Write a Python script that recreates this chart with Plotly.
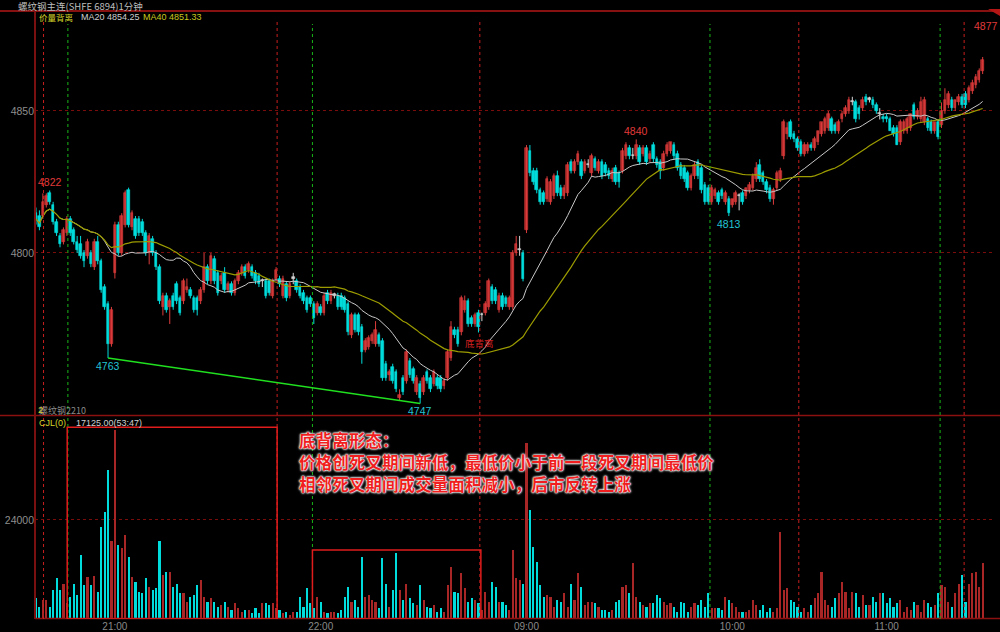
import plotly.graph_objects as go
import pandas as pd

# ---------------- data: 1-minute bars [open, high, low, close] ----------------
ohlc_prev_day = [
    [4814,4816,4810,4812],[4813,4815,4808,4809],[4813,4821,4812,4818],[4817,4821,4816,4820],
    [4821,4822,4817,4818],[4817,4818,4810,4811],[4811,4812,4806,4807],[4806,4807,4802,4803],
    [4804,4809,4803,4808],[4807,4813,4806,4812],[4812,4813,4806,4807],[4808,4809,4803,4804],
    [4804,4806,4800,4801],[4803,4806,4798,4799],[4800,4801,4795,4797],[4799,4805,4798,4804],
    [4800,4801,4795,4796],[4795,4805,4794,4804],[4804,4806,4796,4797],[4797,4798,4786,4787],
    [4788,4789,4780,4781],[4782,4783,4763,4768],[4768,4781,4767,4780],
]
ohlc_night = [
    [4793,4811,4791,4810],[4810,4811,4799,4800],[4800,4814,4799,4813],[4810,4822,4809,4821],
    [4822,4823,4809,4810],[4809,4815,4808,4814],[4812,4813,4805,4806],[4812,4813,4806,4807],
    [4811,4812,4806,4807],[4807,4808,4799,4800],[4800,4807,4796,4806],[4805,4806,4799,4800],
    [4800,4801,4794,4795],[4795,4796,4782,4783],[4781,4786,4778,4785],[4785,4786,4779,4780],
    [4781,4784,4775,4783],[4785,4786,4780,4781],[4789,4790,4782,4783],[4784,4785,4778,4779],
    [4783,4791,4782,4790],[4787,4791,4786,4788],[4787,4788,4784,4785],[4784,4785,4779,4780],
    [4784,4785,4778,4780],[4783,4788,4782,4787],[4787,4800,4786,4795],[4795,4796,4789,4790],
    [4790,4800,4789,4799],[4798,4799,4789,4790],[4793,4794,4785,4786],[4790,4793,4789,4792],
    [4793,4795,4786,4787],[4787,4790,4786,4789],[4789,4790,4785,4786],[4786,4791,4785,4790],
    [4790,4794,4789,4793],[4793,4796,4792,4795],[4795,4796,4791,4792],[4794,4797,4793,4796],
    [4795,4796,4791,4792],[4793,4794,4789,4790],[4792,4793,4788,4789],[4790,4791,4788,4790],
    [4790,4791,4784,4785],[4790,4791,4785,4786],[4785,4791,4784,4790],[4791,4795,4790,4794],
    [4791,4792,4788,4789],[4785,4792,4784,4791],[4789,4790,4783,4784],[4785,4790,4784,4789],
    [4791,4793,4789,4791],[4790,4791,4786,4787],[4788,4789,4784,4785],[4786,4787,4782,4783],
    [4784,4785,4779,4780],[4784,4785,4781,4782],[4782,4783,4775,4777],[4779,4783,4778,4782],
    [4781,4782,4778,4779],[4779,4786,4778,4785],[4786,4787,4782,4783],[4783,4787,4782,4786],
    [4785,4786,4784,4785],[4785,4786,4780,4781],[4785,4786,4780,4781],[4784,4785,4779,4780],
    [4782,4783,4771,4772],[4771,4779,4770,4778],[4778,4779,4772,4773],[4778,4779,4771,4772],
    [4774,4775,4761,4765],[4766,4770,4765,4769],[4767,4771,4766,4770],[4769,4772,4768,4771],
    [4768,4776,4767,4773],[4771,4772,4767,4768],[4769,4770,4755,4756],[4761,4762,4755,4756],
    [4757,4759,4755,4758],[4760,4761,4754,4755],[4758,4759,4751,4752],[4749,4752,4748,4750],
    [4756,4757,4750,4751],[4755,4766,4754,4765],[4762,4763,4756,4757],[4759,4760,4754,4755],
    [4751,4757,4750,4756],[4754,4755,4747,4749],[4751,4757,4750,4756],[4758,4759,4754,4755],
    [4756,4757,4751,4752],[4754,4759,4753,4758],[4756,4757,4752,4753],[4756,4757,4751,4752],
    [4753,4756,4752,4755],[4756,4766,4755,4765],[4763,4776,4762,4774],[4773,4774,4770,4771],
    [4773,4774,4767,4768],[4772,4785,4771,4784],[4780,4785,4779,4783],[4783,4784,4774,4775],
    [4777,4778,4774,4775],[4775,4779,4774,4778],[4779,4780,4772,4774],[4778,4779,4776,4778],
    [4779,4783,4778,4782],[4781,4791,4780,4790],[4788,4789,4782,4783],[4787,4788,4782,4783],
    [4780,4786,4779,4785],[4785,4786,4780,4781],[4784,4785,4781,4782],[4781,4785,4780,4784],
    [4781,4801,4780,4800],[4800,4806,4799,4803],[4801,4806,4799,4801],[4800,4801,4790,4791],
]
ohlc_morning1 = [
    [4808,4838,4807,4837],[4836,4838,4827,4828],[4829,4830,4824,4825],[4829,4830,4821,4822],
    [4822,4823,4817,4818],[4821,4822,4817,4818],[4819,4827,4818,4826],[4818,4826,4817,4825],
    [4820,4828,4819,4827],[4827,4829,4820,4821],[4823,4824,4819,4820],[4820,4824,4819,4823],
    [4821,4832,4820,4831],[4832,4833,4828,4829],[4829,4833,4828,4832],[4832,4836,4831,4835],
    [4832,4833,4826,4827],[4829,4833,4828,4832],[4831,4833,4830,4831],[4828,4835,4827,4834],
    [4833,4834,4829,4830],[4829,4833,4828,4832],[4832,4833,4826,4827],[4831,4832,4827,4828],
    [4829,4830,4826,4827],[4826,4830,4825,4829],[4830,4831,4824,4825],[4828,4829,4823,4825],
    [4829,4837,4828,4836],[4834,4839,4833,4838],[4837,4838,4833,4834],[4834,4837,4833,4834],
    [4834,4840,4833,4838],[4837,4838,4831,4832],[4835,4838,4834,4837],[4837,4838,4831,4832],
    [4833,4836,4832,4835],[4838,4839,4832,4833],[4833,4834,4830,4831],[4832,4833,4826,4829],
    [4830,4836,4829,4835],[4835,4839,4834,4838],[4836,4839,4835,4839],[4838,4839,4833,4834],
    [4835,4836,4829,4830],[4831,4832,4826,4827],[4830,4831,4825,4826],[4828,4829,4822,4823],
    [4823,4828,4822,4827],[4827,4832,4826,4831],[4832,4833,4826,4827],[4830,4831,4821,4822],
    [4824,4825,4817,4818],[4823,4824,4817,4818],[4818,4824,4817,4823],[4820,4823,4819,4822],
    [4821,4822,4817,4818],[4822,4823,4819,4820],[4818,4822,4817,4821],[4819,4820,4813,4814],
    [4817,4819,4816,4819],[4818,4822,4817,4821],[4820,4821,4815,4820],[4821,4822,4817,4818],
    [4820,4823,4819,4823],[4822,4825,4821,4824],[4823,4828,4822,4827],[4826,4832,4825,4830],
    [4831,4833,4825,4826],[4828,4829,4824,4825],[4825,4826,4821,4822],[4823,4824,4818,4819],
    [4819,4823,4817,4822],[4823,4829,4822,4828],[4826,4830,4825,4829],
]
ohlc_morning2 = [
    [4834,4847,4833,4846],[4842,4846,4840,4844],[4846,4847,4840,4841],[4842,4843,4839,4840],
    [4840,4841,4836,4837],[4839,4840,4834,4835],[4835,4839,4834,4838],[4836,4839,4835,4838],
    [4838,4839,4836,4837],[4837,4841,4836,4840],[4839,4843,4838,4843],[4842,4846,4841,4846],
    [4843,4848,4842,4847],[4844,4850,4843,4849],[4847,4848,4842,4843],[4845,4846,4842,4843],
    [4843,4847,4842,4846],[4847,4850,4846,4849],[4849,4852,4848,4851],[4850,4855,4849,4854],
    [4853,4855,4852,4853],[4853,4854,4846,4847],[4851,4852,4847,4849],[4851,4855,4850,4854],
    [4855,4856,4852,4853],[4854,4855,4853,4854],[4854,4855,4851,4852],[4852,4853,4849,4850],
    [4849,4851,4847,4849],[4848,4849,4846,4847],[4848,4849,4846,4847],[4847,4848,4843,4843],
    [4844,4845,4841,4842],[4844,4845,4838,4838],[4839,4847,4838,4846],[4843,4847,4842,4846],
    [4843,4848,4842,4847],[4844,4849,4843,4849],[4852,4853,4847,4848],[4848,4851,4847,4850],
    [4847,4855,4846,4853],[4846,4855,4845,4854],[4847,4848,4843,4844],[4846,4847,4842,4843],
    [4843,4846,4842,4846],[4846,4847,4840,4841],[4845,4853,4844,4850],[4850,4858,4849,4854],
    [4852,4857,4851,4856],[4854,4855,4850,4851],[4851,4854,4850,4854],[4853,4856,4852,4855],
    [4855,4856,4851,4852],[4856,4857,4851,4852],[4854,4859,4853,4858],[4857,4861,4856,4860],
    [4859,4863,4858,4862],[4861,4865,4860,4864],[4864,4869,4863,4868],[4868,4877,4867,4873],
]

vol_prev_day = [5000,3000,4600,4600,3000,7000,9900,7000,8600,4000,5400,8600,5800,15500,8200,
                10300,8200,10400,6600,22400,26000,36000,19000]
vol_night = [45800,
             17900,17100,20400,15100,10300,9000,6600,6200,9900,7800,7000,7400,19000,10700,11500,
             11500,7800,8600,6200,6200,4200,5400,5800,8200,9500,5400,4200,5000,4200,3000,3400,
             4200,3000,2200,3800,2600,1800,2200,2200,1400,2600,1400,3800,3800,3400,3800,
             2600,2200,1400,1800,1000,1800,1800,5400,3000,7400,4000,2600,5400,4200,1800,1400,
             1800,1800,1400,2200,5400,7800,4200,4600,3000,15100,5400,5800,4600,4200,2600,14700,
             8600,3000,7000,15900,7000,4600,8600,5000,3800,3400,8200,4600,3000,2600,3400,1800,
             2600,1800,8200,12700,6600,6200,11100,7400,4200,5000,4600,3800,2200,6600,4200,9000,
             7800,4200,4200,3400,2200,
             16700,9900,9500,8600]
vol_morning1 = [42600,
                26400,17500,13900,8200,5400,5800,5400,3000,4600,4200,6200,3000,8600,4600,11100,
                7800,3400,4200,4200,3800,3000,2200,2200,1800,2200,4200,4600,7800,8200,6200,
                13500,5400,4200,3400,3000,3800,3800,5800,5000,4200,3400,3800,3000,1800,4200,
                3800,1800,3000,3800,3400,4600,3000,6200,2600,2600,2600,2200,5400,4600,3800,
                3000,1800,1800,1800,2200,4600,3400,2200,3400,1800,2600,1800,2600]
vol_morning2 = [21200,7000,7400,4600,4200,3000,1800,2600,1800,3400,5000,6200,11500,4600,3400,
                3000,5000,6200,9000,6600,2600,6600,6200,3000,5800,3400,3400,5400,4200,6200,
                6200,3800,5000,3000,3800,4600,1800,3000,2200,4200,3400,1800,4600,3800,3000,
                3400,6200,8200,7800,4200,3000,6200,8600,10700,4200,8600,11100,11500,7800,13500]

time_tick_bars = [23, 83, 143, 203, 248]
time_tick_text = ["21:00", "22:00", "09:00", "10:00", "11:00"]
price_ticks = [4800, 4850]
vol_ticks = [24000]
vol_tick_text = ["24000"]

golden_cross_bars = [2.2, 70.3, 129.4, 222.4, 270.6]   # red dotted markers
dead_cross_bars = [9.3, 80.6, 196.5, 263.6]            # green dotted markers
dead_cross_boxes = [(9.1, 70.3, 46500), (80.6, 129.7, 16700)]
divergence_points = [(21, 4763), (112, 4747)]

extreme_labels = [  # bar, price, text, kind
    (4, 4822, "4822", "high"), (21, 4763, "4763", "low"), (112, 4747, "4747", "low"),
    (175, 4840, "4840", "high"), (202, 4813, "4813", "low"), (277, 4877, "4877", "high"),
]

# ---------------- build frame ----------------
rows = ohlc_prev_day + ohlc_night + ohlc_morning1 + ohlc_morning2
vols = vol_prev_day + vol_night + vol_morning1 + vol_morning2
df = pd.DataFrame(rows, columns=["open", "high", "low", "close"])
n = min(len(df), len(vols))
df = df.iloc[:n].copy()
df["vol"] = vols[:n]
df["i"] = range(n)
df["ma20"] = df["close"].rolling(20, min_periods=1).mean()
df["ma40"] = df["close"].rolling(40, min_periods=1).mean()

UP_FILL, UP_EDGE = "#b42a2a", "#dc3c3c"
DN = "#00dcdc"
DOJI = "#d4d4d4"
VOL_UP = "#a82626"

def kind(o, c):
    return "up" if c > o else ("dn" if c < o else "doji")

df["kind"] = [kind(o, c) for o, c in zip(df.open, df.close)]
color_map = {"up": UP_FILL, "dn": DN, "doji": DOJI}
wick_map = {"up": UP_EDGE, "dn": DN, "doji": DOJI}

fig = go.Figure()

# wicks
for k in ["up", "dn", "doji"]:
    sub = df[df.kind == k]
    xs, ys = [], []
    for i, h, l in zip(sub.i, sub.high, sub.low):
        xs += [i, i, None]
        ys += [l, h, None]
    fig.add_trace(go.Scatter(x=xs, y=ys, mode="lines", line=dict(color=wick_map[k], width=1),
                             hoverinfo="skip", showlegend=False, xaxis="x", yaxis="y"))

# bodies
base = [min(o, c) for o, c in zip(df.open, df.close)]
height = [max(abs(c - o), 0.4) for o, c in zip(df.open, df.close)]
fig.add_trace(go.Bar(x=df.i, y=height, base=base, width=0.74,
                     marker=dict(color=[color_map[k] for k in df.kind],
                                 line=dict(color=[wick_map[k] for k in df.kind], width=0.6)),
                     hoverinfo="skip", showlegend=False, xaxis="x", yaxis="y"))

# moving averages
fig.add_trace(go.Scatter(x=df.i, y=df.ma20, mode="lines", line=dict(color="#c8c8c8", width=1),
                         hoverinfo="skip", showlegend=False, xaxis="x", yaxis="y"))
fig.add_trace(go.Scatter(x=df.i, y=df.ma40, mode="lines", line=dict(color="#9c9c00", width=1.2),
                         hoverinfo="skip", showlegend=False, xaxis="x", yaxis="y"))

# volume
fig.add_trace(go.Bar(x=df.i, y=df.vol, width=0.62,
                     marker=dict(color=[DN if k == "dn" else VOL_UP for k in df.kind], line=dict(width=0)),
                     hoverinfo="skip", showlegend=False, xaxis="x", yaxis="y2"))

# ---------------- layout geometry (pixels -> paper) ----------------
L, R, T, B, W, H = 35, 5, 11, 13, 1000, 632
PW, PH = W - L - R, H - T - B
def px(x):
    return (x - L) / PW
def py(y):
    return (H - B - y) / PH

shapes = []
line_red = "#b41616"
shapes.append(dict(type="line", xref="paper", yref="paper", x0=px(0), x1=px(1000), y0=1, y1=1,
                   line=dict(color=line_red, width=1.5)))
shapes.append(dict(type="line", xref="paper", yref="paper", x0=px(0), x1=px(1000), y0=py(415.5), y1=py(415.5),
                   line=dict(color="#8c1010", width=1.5)))
shapes.append(dict(type="line", xref="paper", yref="paper", x0=0, x1=px(1000), y0=py(618.5), y1=py(618.5),
                   line=dict(color="#8c1010", width=1.5)))
shapes.append(dict(type="line", xref="paper", yref="paper", x0=0, x1=0, y0=0, y1=1,
                   line=dict(color="#7a1010", width=2)))
shapes.append(dict(type="path", xref="paper", yref="paper",
                   path=f"M {px(988)} {py(9)} L {px(1000)} {py(9)} L {px(1000)} {py(16)} Z",
                   fillcolor=line_red, line=dict(width=0)))
for b in golden_cross_bars:
    shapes.append(dict(type="line", xref="x", yref="paper", x0=b, x1=b, y0=0, y1=py(22),
                       line=dict(color="#c81e1e", width=1, dash="dot")))
for b in dead_cross_bars:
    shapes.append(dict(type="line", xref="x", yref="paper", x0=b, x1=b, y0=0, y1=py(24),
                       line=dict(color="#18b418", width=1, dash="dot")))
for x0, x1, top in dead_cross_boxes:
    shapes.append(dict(type="rect", xref="x", yref="y2", x0=x0, x1=x1, y0=0, y1=top,
                       line=dict(color="#e01c1c", width=1.5), fillcolor="rgba(0,0,0,0)"))
(dx0, dy0), (dx1, dy1) = divergence_points
shapes.append(dict(type="line", xref="x", yref="y", x0=dx0, y0=dy0, x1=dx1, y1=dy1,
                   line=dict(color="#20e020", width=1.5)))

CJK = "Noto Sans CJK SC"
NUM = "Liberation Sans"
ann = []
def txt(x, y, s, color, size=9.5, fam=CJK, anchor="left", **kw):
    ann.append(dict(x=px(x), y=py(y), xref="paper", yref="paper", text=s, showarrow=False,
                    xanchor=anchor, yanchor="middle", font=dict(color=color, size=size, family=fam), **kw))

txt(16, 6, "螺纹钢主连(SHFE 6894)1分钟", "#bdbdbd", 9.5)
txt(37, 17, "价量背离", "#d6d62a", 8.5)
txt(79, 17, "MA20 4854.25", "#cfcfcf", 9, NUM)
txt(141, 17, "MA40 4851.33", "#c8c81e", 9, NUM)
txt(37, 410, "螺纹钢2210", "#8a8a8a", 9)
txt(36, 409, "2", "#d6d62a", 9.5, NUM)
txt(37, 423, "CJL(0)", "#d6d62a", 9, NUM)
txt(74, 423, "17125.00(53:47)", "#d0d0d0", 9, NUM)

glow = "0 0 2px #ffffff, 0 0 2px #ffffff, 0 0 3px #ffffff, 0 0 1px #ffffff"
for y, s in [(440, "底背离形态："),
             (462, "价格创死叉期间新低，最低价小于前一段死叉期间最低价"),
             (484, "相邻死叉期间成交量面积减小，后市反转上涨")]:
    ann.append(dict(x=px(297), y=py(y), xref="paper", yref="paper", text=f"<b>{s}</b>", showarrow=False,
                    xanchor="left", yanchor="middle",
                    font=dict(color="#f01e1e", size=16.6, family=CJK, shadow=glow)))

for b, p, s, k in extreme_labels:
    ann.append(dict(x=b, y=p, xref="x", yref="y", text=s, showarrow=False, xanchor="center",
                    yanchor="bottom" if k == "high" else "top",
                    font=dict(color="#e03a3a" if k == "high" else "#22c4d4", size=10.5, family=NUM)))
ann.append(dict(x=golden_cross_bars[2], y=4768.3, xref="x", yref="y", text="底背离", showarrow=False,
                xanchor="center", yanchor="middle", font=dict(color="#d42020", size=9.5, family=CJK)))

axis_font = dict(color="#8e8e8e", size=10.5, family=NUM)
fig.update_layout(
    width=W, height=H, margin=dict(l=L, r=R, t=T, b=B, autoexpand=False),
    paper_bgcolor="#000000", plot_bgcolor="#000000",
    barmode="overlay", bargap=0, showlegend=False, hovermode=False,
    xaxis=dict(domain=[0, 1], range=[-0.29, 279.6], anchor="y2", tickvals=time_tick_bars,
               ticktext=time_tick_text, tickfont=dict(color="#8a8a8a", size=10, family=NUM),
               showgrid=False, zeroline=False, showline=False, ticks="", automargin=False,
               ticklabelstandoff=0),
    yaxis=dict(domain=[py(414), 1], range=[4743.3, 4885.2], anchor="x", tickvals=price_ticks,
               tickfont=axis_font, showgrid=True, gridcolor="#7a0c0c", griddash="dot", gridwidth=1,
               zeroline=False, showline=False, ticks="", automargin=False),
    yaxis2=dict(domain=[0, py(418)], range=[0, 48720], anchor="x", tickvals=vol_ticks,
                ticktext=vol_tick_text,
                tickfont=axis_font, showgrid=True, gridcolor="#7a0c0c", griddash="dot", gridwidth=1,
                zeroline=False, showline=False, ticks="", automargin=False),
    shapes=shapes, annotations=ann,
)

# the page body has a default 8px margin; remove it so the figure fills the window exactly
fig.write_html("out.html", config={"displayModeBar": False},
               post_script="document.body.style.margin='0';document.body.style.background='#000';")
